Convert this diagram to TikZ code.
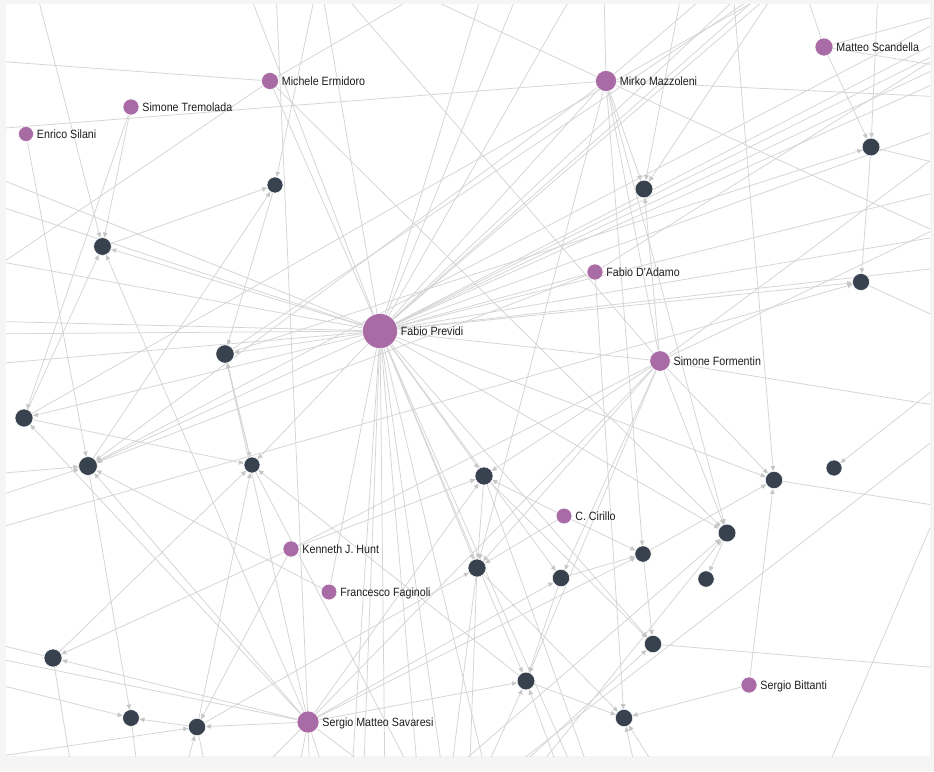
\documentclass[tikz,border=0pt]{standalone}
\usepackage{fontspec}
\newfontfamily\labfont{Liberation Sans}[FakeStretch=0.89]
\usetikzlibrary{arrows.meta}
\pgfdeclarelayer{edges}
\pgfsetlayers{edges,main}
\definecolor{edgec}{HTML}{D4D4D4}
\definecolor{tipc}{HTML}{C6C6C6}
\definecolor{authc}{HTML}{A96BA6}
\definecolor{papc}{HTML}{38424E}
\definecolor{framec}{HTML}{F5F5F5}
\definecolor{labc}{HTML}{1E1E1E}
\begin{document}
\begin{tikzpicture}[x=1pt,y=-1pt,
  auth/.style={circle,fill=authc,draw=white,line width=0.5pt,inner sep=0pt},
  pap/.style={circle,fill=papc,draw=white,line width=0.5pt,inner sep=0pt},
  lab/.style={anchor=west,inner sep=0pt,text height=8.4pt,text depth=0pt,font=\labfont\fontsize{12}{14}\selectfont,text=labc},
  ln/.style={draw=edgec,line width=0.75pt},
  ar/.style={ln,-{Triangle[length=5pt,width=4.5pt,color=tipc]}}]
\useasboundingbox (0,0) rectangle (934,771);
% ---------- nodes (authors) ----------
\node[auth,minimum size=35pt] (fp) at (380,331) {};
\node[auth,minimum size=17pt] (me) at (270,81) {};
\node[auth,minimum size=16pt] (st) at (131,107) {};
\node[auth,minimum size=15pt] (es) at (26,134) {};
\node[auth,minimum size=21pt] (mm) at (606,81) {};
\node[auth,minimum size=18pt] (ms) at (824,47) {};
\node[auth,minimum size=16pt] (fda) at (595,272) {};
\node[auth,minimum size=20.5pt] (sf) at (660,361) {};
\node[auth,minimum size=15.7pt] (cc) at (564,516) {};
\node[auth,minimum size=16pt] (kh) at (291,549) {};
\node[auth,minimum size=15.7pt] (ff) at (329,592) {};
\node[auth,minimum size=22pt] (sms) at (308,722) {};
\node[auth,minimum size=16pt] (sb) at (749,685) {};
% ---------- nodes (papers) ----------
\node[pap,minimum size=16pt] (p1) at (275,185) {};
\node[pap,minimum size=17.7pt] (p2) at (102.5,246.5) {};
\node[pap,minimum size=18.3pt] (p3) at (225,354) {};
\node[pap,minimum size=18pt] (p4) at (24,418) {};
\node[pap,minimum size=18.7pt] (p5) at (88,466) {};
\node[pap,minimum size=16pt] (p6) at (252,465) {};
\node[pap,minimum size=17.7pt] (p7) at (644,189) {};
\node[pap,minimum size=17.7pt] (p8) at (871,147) {};
\node[pap,minimum size=17pt] (p9) at (861,282) {};
\node[pap,minimum size=18pt] (p10) at (484,476) {};
\node[pap,minimum size=18pt] (p11) at (477,568) {};
\node[pap,minimum size=17.3pt] (p12) at (561,578) {};
\node[pap,minimum size=16.3pt] (p13) at (643,554) {};
\node[pap,minimum size=17.7pt] (p14) at (727,533) {};
\node[pap,minimum size=16.3pt] (p15) at (706,579) {};
\node[pap,minimum size=17.3pt] (p16) at (774,480) {};
\node[pap,minimum size=16pt] (p17) at (834,468) {};
\node[pap,minimum size=17.3pt] (p18) at (653,644) {};
\node[pap,minimum size=17.7pt] (p19) at (526,681) {};
\node[pap,minimum size=17.3pt] (p20) at (624,718) {};
\node[pap,minimum size=18pt] (p21) at (53,658) {};
\node[pap,minimum size=16.7pt] (p22) at (131,718) {};
\node[pap,minimum size=17.3pt] (p23) at (197,727) {};
% ---------- off-picture end points ----------
\coordinate (ot1) at (36,-10);   \coordinate (ot2) at (248,-10);
\coordinate (ot3) at (276,-10);  \coordinate (ot4) at (316,-10);
\coordinate (ot4b) at (322,-10); \coordinate (ot5) at (340,-10);
\coordinate (ot6) at (420,-6);   \coordinate (ot7) at (483,-10);
\coordinate (ot17) at (519,-10); \coordinate (ot8) at (575,-10);
\coordinate (ot9) at (604,-10);  \coordinate (ot10) at (682,-10);
\coordinate (ot11) at (712,-10); \coordinate (ot12) at (733,-10);
\coordinate (ot13) at (778,-12); \coordinate (ot13b) at (770,-14);
\coordinate (ot14) at (805,-10); \coordinate (ot15) at (878,-10);
\coordinate (ot16) at (745,-10);
\coordinate (or1) at (965,8);    \coordinate (or2) at (965,40);
\coordinate (or2b) at (965,28);  \coordinate (or3) at (965,70);
\coordinate (or3b) at (965,55);  \coordinate (or4) at (965,98);
\coordinate (or4b) at (965,120); \coordinate (or5) at (965,135);
\coordinate (or5b) at (965,185); \coordinate (or6) at (965,170);
\coordinate (or7) at (965,215);  \coordinate (or7b) at (965,245);
\coordinate (or7c) at (965,265); \coordinate (or7d) at (965,232);
\coordinate (or8) at (965,330);  \coordinate (or9) at (965,365);
\coordinate (or10) at (965,410); \coordinate (or11) at (965,446);
\coordinate (or12) at (965,510); \coordinate (or13) at (965,670);
\coordinate (or14) at (965,416);
\coordinate (ol1) at (-20,60);   \coordinate (ol2) at (-20,130);
\coordinate (ol3) at (-20,171);  \coordinate (ol4) at (-20,200);
\coordinate (ol5) at (-20,258);  \coordinate (ol6) at (-20,278);
\coordinate (ol7) at (-20,321);  \coordinate (ol8) at (-20,334);
\coordinate (ol9) at (-20,365);  \coordinate (ol10) at (-20,475);
\coordinate (ol11) at (-20,502); \coordinate (ol12) at (-20,533);
\coordinate (ol13) at (-20,640); \coordinate (ol14) at (-20,680);
\coordinate (ol14b) at (-20,655);\coordinate (ol15) at (-20,759);
\coordinate (ob1) at (30,790);   \coordinate (ob2) at (75,790);
\coordinate (ob3) at (140,790);  \coordinate (ob4) at (180,790);
\coordinate (ob5) at (210,790);  \coordinate (ob6) at (240,790);
\coordinate (ob7) at (295,790);  \coordinate (ob8) at (310,790);
\coordinate (ob9) at (330,790);  \coordinate (ob10) at (398,790);
\coordinate (ob11) at (421,790); \coordinate (ob12) at (445,790);
\coordinate (ob13) at (449,790); \coordinate (ob14) at (476,790);
\coordinate (ob15) at (520,790); \coordinate (ob16) at (566,790);
\coordinate (ob17) at (582,790); \coordinate (ob18) at (640,790);
\coordinate (ob19) at (670,790); \coordinate (ob20) at (818,790);
\coordinate (ob21) at (430,790); \coordinate (ob22) at (483,790);
\coordinate (ob23) at (469,790); \coordinate (ob24) at (596,790);
\coordinate (ob25) at (351,790); \coordinate (ob26) at (363,790);
\coordinate (ob27) at (385,790); \coordinate (ob28) at (419,790);
\coordinate (ob29) at (490,790); \coordinate (ob30) at (494,790);
% ---------- connectors (drawn below the nodes) ----------
\begin{pgfonlayer}{edges}
\fill[framec] (0,0) rectangle (934,771);
\fill[white] (6,4) rectangle (930,756);
\begin{scope}
\clip (6,4) rectangle (930,756);
\foreach \a/\b in {ol1/me,ol2/mm,ol3/fp,ol4/fp,ol5/fp,ol7/fp,ol8/fp,ol9/fp,me/ol6,
  ot2/fp,ot3/sms,ot5/sf,ot4b/fp,ot6/me,ot6/mm,ot7/fp,ot17/fp,me/fp,fp/mm,fp/fda,fp/sf,
  mm/sf,fp/ot13,fp/ot13b,fp/ot8,mm/ot9,ms/ot14,ms/or1,fp/or2,fp/or3,mm/or4,sf/or5,
  p8/or6,sf/or7,mm/or7b,p9/or8,sf/or10,p16/or12,p18/or13,ob20/or11,ob22/or14,
  sms/ob7,sms/ob8,sms/ob9,sms/ob10,ol14b/sms,p21/ol13,p22/ob3,p21/ob2,p23/ob5,
  sms/ob6,fp/ob12,p11/ob13,p6/ob11,p11/ob23,fp/ob17,p10/ob24,p5/or1,p4/ot13,
  p3/ot13b,kh/sf,sms/sf,fda/or2,mm/ot11,fp/ff,fp/ob25,fp/ob26,fp/ob27,fp/ob28,fp/ob29,
  fp/or2b,fp/or3b,fp/or4b,fp/or5b,fp/or7c,fp/or7d,fp/ot16,ms/or3}
  \draw[ln] (\a) -- (\b);
\foreach \a/\b in {es/p5,st/p2,st/p4,me/p14,fp/p2,fp/p3,fp/p4,fp/p5,mm/p5,fda/p5,
  fp/p6,fp/p10,fp/p11,fp/p19,fp/p12,cc/p13,p12/p13,sms/p13,sf/p14,fp/p14,p14/p15,
  p13/p16,sb/p16,sb/p20,p13/p18,ot12/p16,p8/p9,ms/p8,fp/p9,ol12/p9,p3/p8,mm/p7,
  ot13/p7,sf/p7,mm/p13,sf/p12,sf/p19,sf/p11,fp/p16,cc/p11,cc/p10,ob14/p19,ob16/p19,
  p12/p19,p19/p20,ob18/p20,ob19/p20,p11/p20,sms/p12,fp/p18,ob21/p14,ob15/p14,
  p4/p6,sms/p4,sms/p5,ff/p5,p5/p22,ol10/p5,ol11/p5,p3/p6,p19/p6,kh/p21,sms/p21,
  p23/p22,kh/p23,ob4/p23,ol14/p22,ol15/p23,ot1/p2,ot4/p1,p2/p1,p5/p1,p1/p3,p4/p2,
  sms/p2,sms/p3,p6/p3,ot10/p7,ot15/p8,or9/p17,kh/p10,sf/p16,sf/p10,p10/p11,p10/p18,
  mm/p14,mm/p11,sms/p19,p21/p6,fda/p20,p23/p6,sms/p23,ob30/p18,p23/p11,sms/p10}
  \draw[ar] (\a) -- (\b);
\end{scope}
\end{pgfonlayer}
% ---------- labels ----------
\node[lab] (lfp) at ([xshift=3pt]fp.east) {Fabio Previdi};
\node[lab] (lme) at ([xshift=3pt]me.east) {Michele Ermidoro};
\node[lab] (lst) at ([xshift=3pt]st.east) {Simone Tremolada};
\node[lab] (les) at ([xshift=3pt]es.east) {Enrico Silani};
\node[lab] (lmm) at ([xshift=3pt]mm.east) {Mirko Mazzoleni};
\node[lab] (lms) at ([xshift=3pt]ms.east) {Matteo Scandella};
\node[lab] (lfda) at ([xshift=3pt]fda.east) {Fabio D'Adamo};
\node[lab] (lsf) at ([xshift=3pt]sf.east) {Simone Formentin};
\node[lab] (lcc) at ([xshift=3pt]cc.east) {C. Cirillo};
\node[lab] (lkh) at ([xshift=3pt]kh.east) {Kenneth J. Hunt};
\node[lab] (lff) at ([xshift=3pt]ff.east) {Francesco Faginoli};
\node[lab] (lsms) at ([xshift=3pt]sms.east) {Sergio Matteo Savaresi};
\node[lab] (lsb) at ([xshift=3pt]sb.east) {Sergio Bittanti};
\end{tikzpicture}
\end{document}
